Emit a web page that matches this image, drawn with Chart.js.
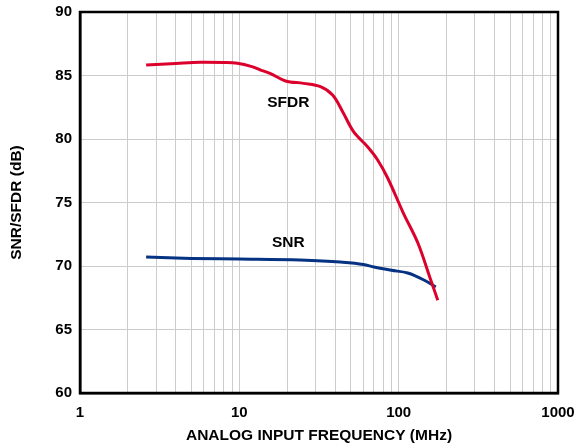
<!DOCTYPE html>
<html>
<head>
<meta charset="utf-8">
<script src="https://cdn.jsdelivr.net/npm/chart.js@4/dist/chart.umd.min.js"></script>
<style>
  html, body { margin: 0; padding: 0; background: #fff; }
  #wrap { width: 577px; height: 448px; }
</style>
</head>
<body>
<div id="wrap"><canvas id="myChart" width="577" height="448"></canvas></div>
<script>
// frequency in MHz, values in dB
var sfdrFreq = [2.6, 4, 5.7, 8, 9.7, 12, 13.6, 15.7, 19.5, 25.3, 32.3, 38.5, 44.5, 52.1, 63.8, 73.8, 85.3, 107, 132, 159, 176];
var sfdrVals = [85.83, 85.95, 86.04, 86.02, 85.96, 85.7, 85.43, 85.15, 84.57, 84.38, 84.12, 83.46, 82.15, 80.58, 79.39, 78.35, 76.93, 74.17, 71.81, 68.9, 67.3];
var snrFreq = [2.6, 5, 10, 24, 43, 60, 70, 90, 114, 144, 171];
var snrVals = [70.7, 70.6, 70.55, 70.47, 70.31, 70.12, 69.92, 69.66, 69.45, 68.9, 68.35];
var majorTicks = [1, 10, 100, 1000];
var yTicks = [60, 65, 70, 75, 80, 85, 90];
var curveLabels = [
  { text: 'SFDR', x: 20.3, y: 82.83 },
  { text: 'SNR', x: 20.3, y: 71.85 }
];

function toPoints(xs, ys) {
  return xs.map(function (x, i) { return { x: x, y: ys[i] }; });
}

var boxAndLabels = {
  id: 'boxAndLabels',
  afterDraw: function (chart) {
    var c = chart.ctx, a = chart.chartArea;
    c.save();
    c.strokeStyle = '#000';
    c.lineWidth = 2.5;
    c.strokeRect(a.left, a.top, a.right - a.left, a.bottom - a.top);
    c.fillStyle = '#000';
    c.font = 'bold 15.5px "Liberation Sans", Arial, sans-serif';
    c.textAlign = 'center';
    c.textBaseline = 'middle';
    curveLabels.forEach(function (l) {
      c.fillText(l.text, chart.scales.x.getPixelForValue(l.x), chart.scales.y.getPixelForValue(l.y));
    });
    c.restore();
  }
};

Chart.defaults.font.family = '"Liberation Sans", Arial, sans-serif';
Chart.defaults.font.weight = 'bold';
Chart.defaults.color = '#000';

new Chart(document.getElementById('myChart'), {
  type: 'line',
  data: {
    datasets: [{
      label: 'SFDR',
      data: toPoints(sfdrFreq, sfdrVals),
      borderColor: 'rgb(220, 0, 45)',
      borderWidth: 3,
      pointRadius: 0,
      tension: 0.35
    }, {
      label: 'SNR',
      data: toPoints(snrFreq, snrVals),
      borderColor: 'rgb(5, 50, 130)',
      borderWidth: 3,
      pointRadius: 0,
      cubicInterpolationMode: 'monotone'
    }]
  },
  options: {
    responsive: false,
    animation: false,
    layout: { padding: { left: 0, right: 19, top: 12, bottom: 0 } },
    plugins: { legend: { display: false }, tooltip: { enabled: false } },
    scales: {
      x: {
        type: 'logarithmic',
        min: 1,
        max: 1000,
        afterBuildTicks: function (scale) {
          var t = [];
          [1, 10, 100].forEach(function (d) {
            for (var k = 1; k < 10; k++) t.push({ value: d * k });
          });
          t.push({ value: 1000 });
          scale.ticks = t;
        },
        afterFit: function (scale) {
          scale.height = 55;
          scale.paddingLeft = 0;
          scale.paddingRight = 0;
        },
        ticks: {
          autoSkip: false,
          maxRotation: 0,
          padding: 11,
          font: { size: 15, weight: 'bold' },
          callback: function (v) { return majorTicks.indexOf(v) >= 0 ? String(v) : ''; }
        },
        grid: { color: '#cccccc', lineWidth: 1, drawTicks: false },
        border: { display: true, color: '#000', width: 2.5 },
        title: {
          display: true,
          text: 'ANALOG INPUT FREQUENCY (MHz)',
          font: { size: 15.5, weight: 'bold' },
          padding: { top: 0, bottom: 3 }
        }
      },
      y: {
        min: 60,
        max: 90,
        afterBuildTicks: function (scale) {
          scale.ticks = yTicks.map(function (v) { return { value: v }; });
        },
        afterFit: function (scale) {
          scale.width = 80;
          scale.paddingTop = 0;
          scale.paddingBottom = 0;
        },
        ticks: {
          padding: 8,
          font: { size: 15, weight: 'bold' }
        },
        grid: { color: '#cccccc', lineWidth: 1, drawTicks: false },
        border: { display: true, color: '#000', width: 2.5 },
        title: {
          display: true,
          text: 'SNR/SFDR (dB)',
          font: { size: 15.5, weight: 'bold' },
          padding: { top: 7, bottom: 0 }
        }
      }
    }
  },
  plugins: [boxAndLabels]
});
</script>
</body>
</html>
